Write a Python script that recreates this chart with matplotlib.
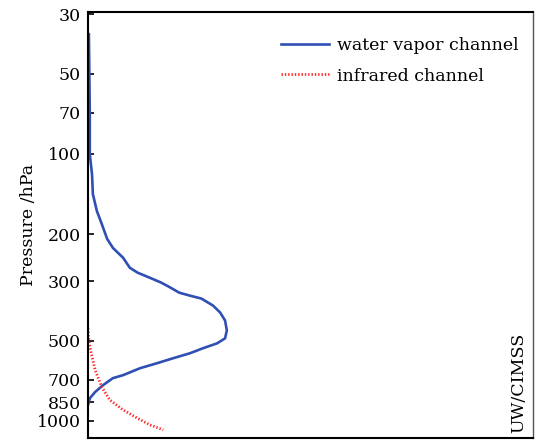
import matplotlib.pyplot as plt
from matplotlib.ticker import FixedLocator, NullLocator

plt.rcParams["font.family"] = ["DejaVu Serif"]

# water vapor channel weighting function (relative units vs pressure in hPa)
wv_p = [35.6, 50, 70, 100, 119, 141.5, 163.7, 183, 208, 224.8, 244.9, 266.9,
        278.6, 290.8, 303.5, 315, 330.7, 339.3, 348.1, 369.7, 392.5, 420.4,
        458, 490.4, 512, 534.3, 557.7, 582.3, 607.7, 634.3, 673.4, 691,
        733.9, 778.9, 820.4, 871]
wv_w = [0.002, 0.003, 0.004, 0.004, 0.009, 0.011, 0.020, 0.031, 0.043, 0.056,
        0.079, 0.094, 0.112, 0.139, 0.165, 0.183, 0.205, 0.229, 0.255, 0.281,
        0.297, 0.308, 0.312, 0.308, 0.290, 0.258, 0.229, 0.191, 0.155, 0.117,
        0.079, 0.056, 0.034, 0.016, 0.0045, 0.0]

# infrared channel weighting function
ir_p = [450, 480, 530, 645, 747, 834, 909, 974, 1034, 1079]
ir_w = [0.0, 0.001, 0.0045, 0.016, 0.031, 0.049, 0.079, 0.110, 0.139, 0.169]

ticks = [30, 50, 70, 100, 200, 300, 500, 700, 850, 1000]

fig = plt.figure(figsize=(5.35, 4.42), dpi=100)
ax = fig.add_axes([88 / 535, 1 - 438 / 442, 445 / 535, 426 / 442])

ax.plot(wv_w, wv_p, color="#2f4fb5", lw=1.9, label="water vapor channel")
ax.plot(ir_w, ir_p, color="#ff2a2a", lw=2.0, ls=(0, (0.5, 0.7)),
        label="infrared channel")

ax.set_yscale("log")
ax.set_ylim(1158, 29.4)
ax.set_xlim(0, 1)
ax.yaxis.set_major_locator(FixedLocator(ticks))
ax.yaxis.set_minor_locator(NullLocator())
ax.set_yticklabels([str(t) for t in ticks])
ax.set_xticks([])
ax.tick_params(axis="y", direction="in", length=4, width=1.2, pad=5,
               labelsize=12.5)
ax.set_ylabel("Pressure /hPa", fontsize=12.5, labelpad=0)

for side in ["left", "top", "bottom"]:
    ax.spines[side].set_linewidth(1.5)
ax.spines["right"].set_linewidth(1.0)
ax.spines["right"].set_color("#555555")

ax.legend(loc="upper left", bbox_to_anchor=(265 / 535, 1 - 21 / 442),
          bbox_transform=fig.transFigure, frameon=False, fontsize=12.5,
          handlelength=2.8, handletextpad=0.45, labelspacing=0.8)

fig.text(519 / 535, 1 - 383 / 442, "UW/CIMSS", rotation=90, ha="center",
         va="center", fontsize=12.5)

fig.savefig("out.png", dpi=100)
